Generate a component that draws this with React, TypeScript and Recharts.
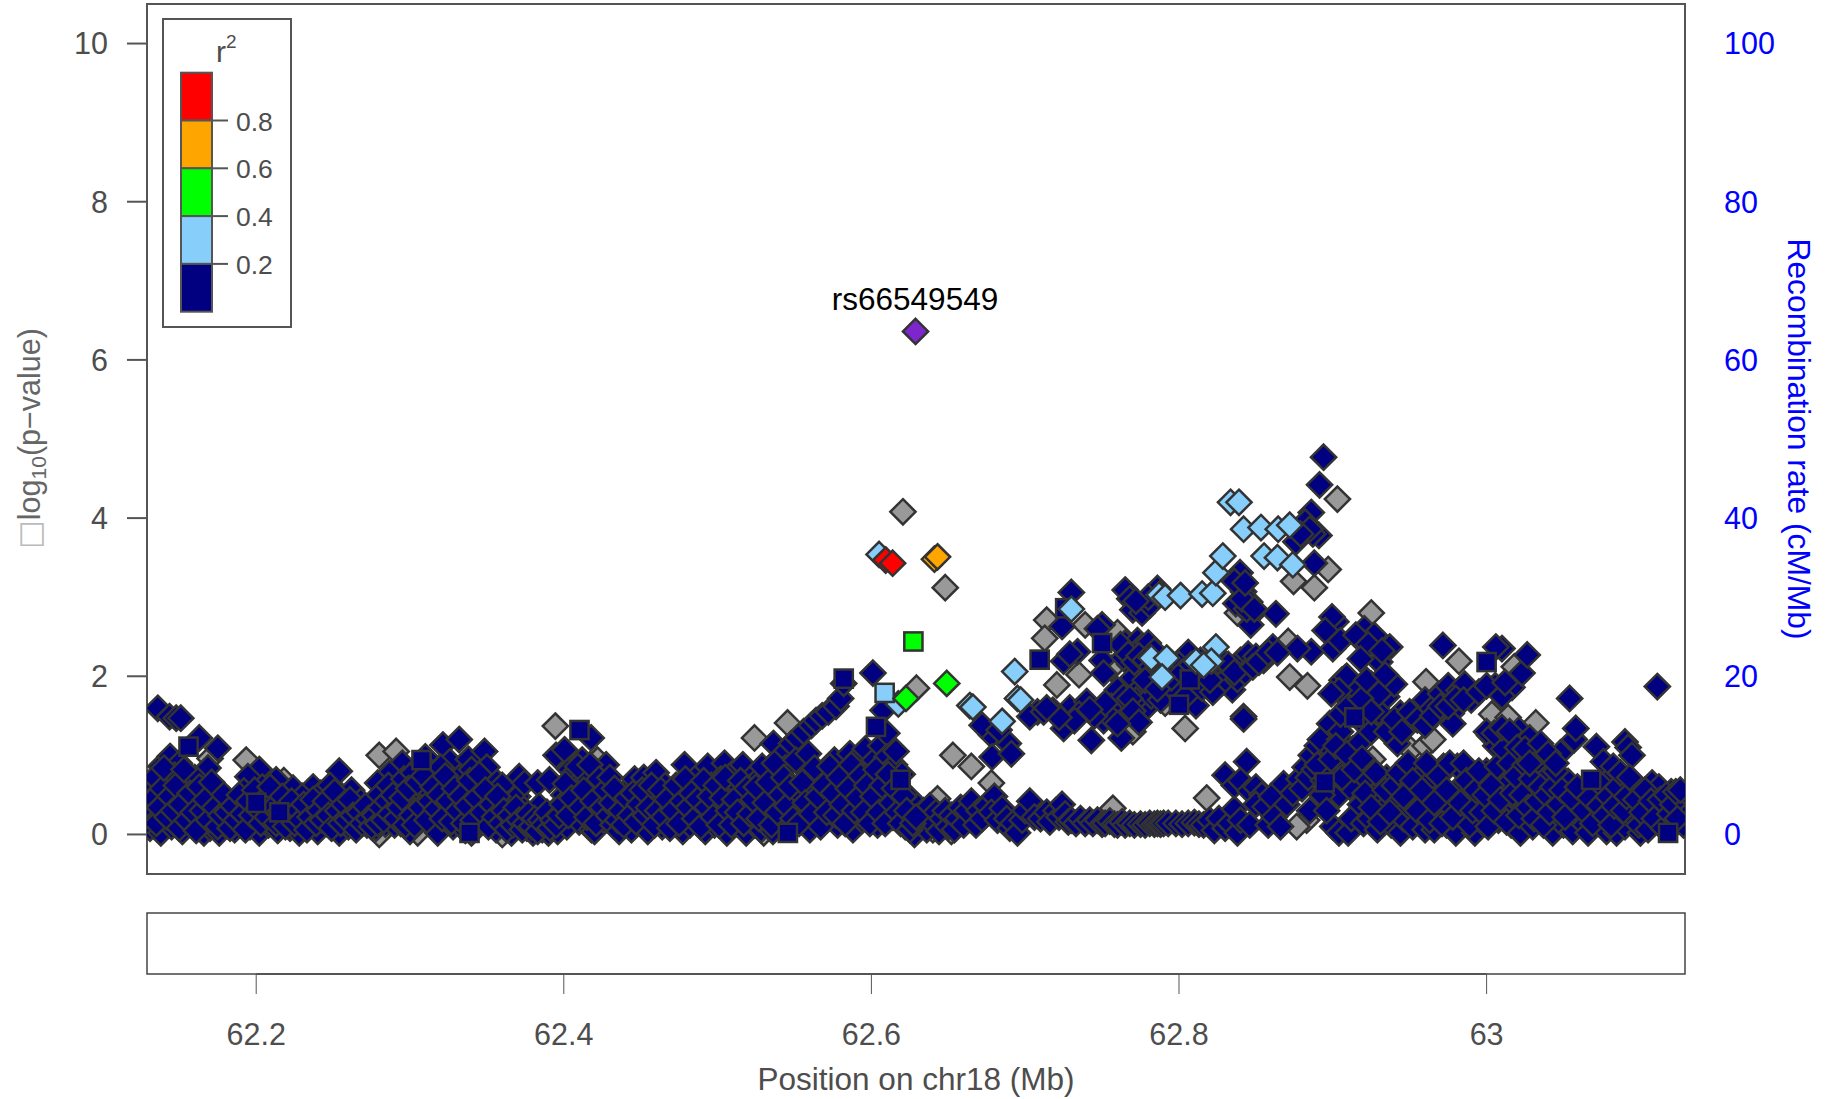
import { ScatterChart, Scatter, XAxis, YAxis, ReferenceArea, ReferenceLine } from "recharts";

const X_DOMAIN = [62.129, 63.129];
const LEFT_TICKS = [0, 2, 4, 6, 8, 10];
const RIGHT_TICKS = [0, 20, 40, 60, 80, 100];
const X_TICKS = [62.2, 62.4, 62.6, 62.8, 63];
const R2_BREAKS = ["0.8", "0.6", "0.4", "0.2"];
const R2_COLORS = ["#FF0000", "#FFA500", "#00FF00", "#87CEFA", "#000080"];

type P = [number, number];

const grayPts: P[] = [
  [62.6205,4.08],[62.648,3.12],[62.6293,1.85],[62.653,1],[62.665,.86],[62.678,.65],[62.643,.45],[62.714,2.71],[62.7127,2.48],[62.739,2.65],
  [62.735,2.02],[62.7206,1.89],[62.757,.33],[62.77,1.3],[62.804,1.34],[62.791,1.66],[62.818,.46],[62.903,4.24],[62.897,3.35],[62.8745,3.2],
  [62.888,3.12],[62.838,2.8],[62.925,2.8],[62.871,2.44],[62.872,1.99],[62.8835,1.88],[62.9606,1.93],[63.0034,1.52],[63.014,1.48],[63.032,1.41],
  [62.982,2.19],[62.9507,1.07],[62.926,.95],[62.916,.84],[63.018,2.12],[62.28,1],[62.291,1.05],[62.1935,.94],[62.303,.54],[62.3945,1.37],
  [62.524,1.22],[62.5455,1.41],[62.422,.94],[62.883,.18],[62.8765,.1],[62.773,1.82],[62.756,2.1],[62.76,2.55],[62.307,.66],[62.17,.96],
  [62.218,.68],[62.305,.02],[62.36,.0],[62.28,.0],[62.34,.02],[62.53,.02],[62.64,.06],[62.652,.04],[62.96,1.12],[62.965,1.2],
];

const navyLeft: P[] = [
  [62.136,1.595],[62.1437,1.49],[62.148,1.47],[62.151,1.47],[62.163,1.22],[62.175,1.09],[62.1686,.84],[62.138,.86],[62.144,.985],[62.15,.9],
  [62.165,.56],[62.202,.82],[62.1946,.73],[62.213,.69],[62.254,.8],[62.224,.585],[62.237,.6],[62.295,.9],[62.3214,1.13],[62.332,1.2],
  [62.2867,.77],[62.279,.65],[62.291,.4],[62.318,.27],[62.31,.98],[62.326,.92],[62.338,.95],[62.3485,1.05],[62.353,.73],[62.3355,.65],
  [62.13,.62],[62.13,.3],[62.131,.08],[62.135,.5],[62.136,.2],[62.138,.02],[62.141,.65],[62.143,.36],[62.145,.1],[62.147,.75],
  [62.149,.5],[62.15,.22],[62.152,.04],[62.154,.62],[62.156,.35],[62.158,.12],[62.16,.72],[62.162,.42],[62.164,.18],[62.166,.02],
  [62.168,.32],[62.17,.08],[62.172,.48],[62.174,.2],[62.176,.02],[62.178,.36],[62.18,.12],[62.182,.44],[62.184,.22],[62.186,.06],
  [62.188,.34],[62.19,.14],[62.192,.55],[62.194,.28],[62.196,.1],[62.198,.42],[62.2,.2],[62.202,.02],[62.204,.6],[62.206,.34],
  [62.208,.12],[62.21,.46],[62.212,.24],[62.214,.05],[62.216,.4],[62.218,.16],[62.22,.3],[62.222,.08],[62.224,.38],[62.226,.2],
  [62.228,.02],[62.23,.48],[62.232,.26],[62.234,.12],[62.236,.36],[62.238,.18],[62.24,.04],[62.242,.52],[62.244,.3],[62.246,.14],
  [62.248,.62],[62.25,.38],[62.252,.2],[62.254,.02],[62.256,.48],[62.258,.26],[62.26,.1],[62.262,.56],[62.264,.32],[62.266,.16],
  [62.268,.42],[62.27,.22],[62.272,.12],[62.274,.32],[62.276,.15],[62.278,.08],[62.28,.5],[62.282,.24],[62.284,.13],[62.286,.62],
  [62.288,.16],[62.29,.12],[62.292,.55],[62.294,.14],[62.296,.7],[62.298,.3],[62.3,.04],[62.302,.78],[62.304,.42],[62.306,.16],
  [62.308,.9],[62.31,.55],[62.312,.3],[62.314,.72],[62.316,.12],[62.318,.02],[62.32,.85],[62.322,.55],[62.324,.28],[62.326,.62],
  [62.328,.1],[62.33,.42],[62.332,.72],[62.334,.22],[62.336,.05],[62.338,.5],[62.34,.82],[62.342,.3],[62.344,.62],[62.346,.16],
  [62.348,.4],[62.35,.85],[62.352,.2],[62.354,.5],[62.356,.06],[62.358,.3],[62.36,.62],[62.362,.14],[62.364,.38],[62.366,.02],
  [62.368,.22],[62.37,.48],[62.371,.73],[62.372,.12],[62.374,.32],[62.3745,.65],[62.376,.08],[62.378,.2],[62.38,.02],[62.382,.14],
  [62.383,.65],[62.384,.36],[62.386,.06],[62.388,.22],[62.39,.02],[62.3907,.69],[62.392,.12],[62.394,.3],[62.395,1],[62.396,.04],
  [62.398,.18],[62.4,.5],[62.4005,1.07],[62.402,.1],[62.404,.82],[62.406,.3],[62.407,.78],[62.408,.62],[62.41,.16],[62.412,.94],
  [62.414,.42],[62.4178,1.22],[62.416,.7],[62.418,.06],[62.42,.04],[62.422,.28],[62.424,.56],[62.4275,.88],[62.426,.18],[62.428,.38],
];

const navyLeftDense: P[] = [
  [62.133,.45],[62.134,.72],[62.135,.14],[62.137,.34],[62.139,.58],[62.14,.84],[62.142,.22],[62.144,.48],[62.146,.3],[62.148,.62],
  [62.15,.08],[62.151,.38],[62.153,.82],[62.155,.18],[62.157,.52],[62.159,.28],[62.161,.05],[62.163,.6],[62.165,.3],[62.167,.44],
  [62.169,.18],[62.171,.66],[62.173,.34],[62.175,.1],[62.177,.24],[62.179,.5],[62.181,.28],[62.183,.08],[62.185,.36],[62.187,.18],
  [62.189,.5],[62.191,.26],[62.193,.06],[62.195,.42],[62.197,.24],[62.199,.56],[62.201,.32],[62.203,.14],[62.205,.44],[62.207,.22],
  [62.209,.6],[62.211,.34],[62.213,.14],[62.215,.28],[62.217,.48],[62.219,.1],[62.221,.24],[62.223,.42],[62.225,.14],[62.227,.3],
  [62.229,.18],[62.231,.38],[62.233,.06],[62.235,.22],[62.237,.44],[62.239,.14],[62.241,.3],[62.243,.18],[62.245,.42],[62.247,.24],
  [62.249,.08],[62.251,.54],[62.253,.3],[62.255,.14],[62.257,.38],[62.259,.18],[62.261,.44],[62.263,.24],[62.265,.06],[62.267,.28],
  [62.269,.14],[62.271,.36],[62.273,.2],[62.275,.1],[62.277,.24],[62.279,.14],[62.281,.34],[62.283,.18],[62.285,.42],[62.287,.26],
  [62.289,.5],[62.291,.2],[62.293,.34],[62.295,.46],[62.297,.12],[62.299,.58],[62.301,.24],[62.303,.12],[62.305,.66],[62.307,.34],
  [62.309,.74],[62.311,.18],[62.313,.42],[62.315,.6],[62.317,.32],[62.319,.5],[62.321,.2],[62.323,.74],[62.325,.42],[62.327,.16],
  [62.329,.58],[62.331,.3],[62.333,.48],[62.335,.14],[62.337,.36],[62.339,.68],[62.341,.18],[62.343,.46],[62.345,.76],[62.347,.28],
  [62.349,.56],[62.351,.1],[62.353,.38],[62.355,.22],[62.357,.48],[62.359,.14],[62.361,.3],[62.363,.06],[62.365,.24],[62.367,.12],
  [62.369,.34],[62.371,.18],[62.373,.06],[62.375,.14],[62.377,.26],[62.379,.1],[62.381,.2],[62.383,.04],[62.385,.18],[62.387,.12],
  [62.389,.28],[62.391,.08],[62.393,.18],[62.395,.12],[62.397,.24],[62.399,.38],[62.401,.64],[62.403,.24],[62.405,.46],[62.409,.86],
  [62.411,.34],[62.413,.56],[62.415,.22],[62.417,.88],[62.419,.42],[62.421,.14],[62.423,.7],[62.425,.34],[62.427,.56],[62.429,.24],
];

const navyMidLeft: P[] = [
  [62.43,.72],[62.432,.12],[62.434,.32],[62.436,.04],[62.438,.5],[62.44,.22],[62.4427,.58],[62.442,.38],[62.444,.06],[62.446,.7],
  [62.448,.28],[62.45,.14],[62.452,.72],[62.4546,.04],[62.456,.42],[62.458,.2],[62.46,.78],[62.462,.44],[62.464,.1],[62.466,.62],
  [62.468,.3],[62.47,.16],[62.472,.48],[62.4774,.04],[62.4785,.88],[62.476,.26],[62.48,.6],[62.482,.12],[62.484,.36],[62.486,.72],
  [62.488,.2],[62.49,.5],[62.4936,.86],[62.492,.04],[62.494,.3],[62.496,.62],[62.498,.12],[62.5,.4],[62.5045,.9],[62.502,.7],
  [62.504,.22],[62.506,.02],[62.508,.52],[62.51,.78],[62.512,.14],[62.5142,.6],[62.5164,.88],[62.516,.32],[62.5186,.02],[62.52,.46],
  [62.522,.72],[62.524,.12],[62.5283,.73],[62.5283,.06],[62.528,.36],[62.53,.55],[62.532,.2],[62.534,.85],[62.5363,1.15],[62.536,.04],
  [62.538,.42],[62.5435,1.03],[62.54,.66],[62.542,.24],[62.544,.84],[62.546,.1],[62.548,1.15],[62.55,.5],[62.552,1.22],[62.554,.3],
  [62.556,1.3],[62.558,.8],[62.56,.06],[62.561,1.38],[62.562,.55],[62.564,1.44],[62.566,.22],[62.568,1.5],[62.57,.72],[62.572,1.55],
  [62.574,.38],[62.576,.94],[62.577,1.62],[62.578,.12],[62.58,1.72],[62.582,1.91],[62.58,.56],[62.584,.82],[62.586,1.02],[62.586,.3],
  [62.588,.06],[62.59,.66],[62.592,.98],[62.594,.18],[62.596,1.08],[62.596,.48],[62.598,.8],[62.6,.3],[62.601,2.04],[62.602,.94],
  [62.603,.6],[62.604,.12],[62.6076,1.57],[62.606,1.12],[62.606,.8],[62.608,.42],[62.61,1.28],[62.61,.98],[62.612,.62],[62.614,.22],
  [62.615,.88],[62.616,1.05],[62.618,.42],[62.62,.76],[62.622,.1],[62.624,.48],[62.626,.26],[62.628,.0],[62.63,.36],[62.632,.14],
  [62.634,.3],[62.636,.06],[62.638,.36],[62.64,.14],[62.642,.28],[62.644,.04],[62.646,.2],[62.648,.3],[62.65,.1],[62.652,.24],
  [62.654,.06],[62.656,.2],[62.658,.34],[62.66,.12],[62.662,.3],[62.665,.42],[62.668,.12],[62.67,.3],[62.672,.2],[62.675,.36],
  [62.68,.48],[62.678,.28],[62.682,.18],[62.685,.33],[62.688,.2],[62.69,.08],[62.692,.14],[62.695,.02],[62.698,.18],[62.7,.3],
  [62.703,.42],[62.706,.22],[62.71,.2],[62.714,.28],[62.716,.16],[62.72,.3],[62.722,.22],[62.724,.38],[62.726,.26],[62.728,.16],
  [62.431,.4],[62.433,.58],[62.435,.18],[62.437,.3],[62.439,.12],[62.441,.46],[62.443,.24],[62.445,.52],[62.447,.16],[62.449,.38],
  [62.451,.56],[62.453,.24],[62.455,.34],[62.457,.62],[62.459,.12],[62.461,.3],[62.463,.56],[62.465,.22],[62.467,.44],[62.469,.08],
  [62.471,.3],[62.473,.62],[62.475,.14],[62.477,.42],[62.479,.7],[62.481,.34],[62.483,.52],[62.485,.2],[62.487,.44],[62.489,.1],
  [62.491,.68],[62.493,.34],[62.495,.48],[62.497,.22],[62.499,.62],[62.501,.12],[62.503,.46],[62.505,.72],[62.507,.3],[62.509,.12],
  [62.511,.44],[62.513,.28],[62.515,.68],[62.517,.14],[62.519,.58],[62.521,.26],[62.523,.44],[62.525,.6],[62.527,.2],[62.529,.86],
  [62.531,.4],[62.533,.66],[62.535,.12],[62.537,.9],[62.539,.28],[62.541,.5],[62.543,.72],[62.545,.36],[62.547,.6],[62.549,.2],
  [62.551,.94],[62.553,.14],[62.555,.66],[62.557,.4],[62.559,1.02],[62.561,.26],[62.563,.84],[62.565,.48],[62.567,.1],[62.569,.62],
  [62.571,.28],[62.573,.86],[62.575,.52],[62.577,.24],[62.579,.72],[62.581,.38],[62.583,.14],[62.585,.58],[62.587,.88],[62.589,.3],
  [62.591,.46],[62.593,.74],[62.595,.28],[62.597,.62],[62.599,.14],[62.601,.48],[62.603,.82],[62.605,.28],[62.607,.62],[62.609,.14],
  [62.611,.76],[62.613,.4],[62.615,.58],[62.617,.28],[62.619,.14],[62.621,.48],[62.623,.3],[62.625,.06],[62.627,.14],[62.629,.22],
];

const navyArc: P[] = [
  [62.689,1.15],[62.678,1.26],[62.6785,.98],[62.672,1.38],[62.683,1.32],[62.691,1.02],[62.73,3.06],[62.724,2.63],[62.75,2.65],[62.747,2.6],
  [62.734,2.31],[62.725,2.19],[62.729,2.28],[62.75,2.2],[62.751,2.04],[62.765,3.09],[62.768,2.98],[62.77,2.84],[62.776,2.8],[62.781,2.9],
  [62.786,3.11],[62.78,3],[62.8397,3.31],[62.842,3.07],[62.846,2.94],[62.847,2.77],[62.8466,2.65],[62.837,2.92],[62.844,2.85],[62.863,2.79],
  [62.894,4.77],[62.8914,4.42],[62.886,4.07],[62.882,3.95],[62.891,3.78],[62.887,3.8],[62.876,3.7],[62.888,3.43],[62.902,2.69],[62.8995,2.75],
  [62.9205,2.6],[62.927,2.52],[62.937,2.37],[62.9305,2.18],[62.9,2.35],[62.886,2.31],[62.877,2.35],[62.861,2.37],[62.908,1.98],[62.91,1.92],
  [62.906,1.95],[62.912,1.9],[62.909,2],[62.765,2.42],[62.77,2.3],[62.773,2.45],[62.776,2.38],[62.78,2.42],[62.784,2.32],[62.768,2.15],
  [62.775,2.1],[62.78,2.05],[62.77,1.98],[62.764,2.24],[62.786,2.15],[62.806,2.3],[62.8,2.15],[62.812,2.05],[62.835,2.1],[62.84,2.2],
  [62.845,2.28],[62.85,2.25],[62.855,2.2],[62.83,2.0],[62.826,2.1],[62.818,2.02],[62.8347,1.83],[62.828,1.92],[62.838,1.96],[62.843,2.05],
  [62.811,1.63],[62.842,1.49],[62.842,1.46],[62.7786,1.6],[62.766,1.55],[62.76,1.83],[62.776,1.87],[62.7625,1.22],[62.743,1.19],[62.725,1.34],
  [62.729,1.6],[62.74,1.68],[62.718,1.57],[62.708,1.55],[62.703,1.49],[62.751,1.44],[62.756,1.62],[62.748,1.56],[62.764,1.74],[62.772,1.7],
  [62.782,1.75],[62.757,1.45],[62.745,1.5],[62.735,1.52],[62.712,1.55],[62.788,1.7],[62.796,1.85],[62.805,1.76],[62.815,1.85],[62.822,1.8],
  [62.762,2.4],[62.767,2.28],[62.771,2.18],[62.774,2.26],[62.778,2.2],[62.782,2.12],[62.79,2.05],[62.795,1.98],[62.802,2.05],[62.808,2.15],
  [62.814,2.2],[62.82,1.95],[62.828,2.2],[62.832,2.15],[62.836,2.05],[62.848,2.12],[62.852,2.18],[62.858,2.3],[62.864,2.3],[62.768,1.72],
  [62.778,1.95],[62.786,1.84],[62.752,1.66],[62.742,1.58],[62.732,1.44],[62.722,1.48],[62.714,1.6],[62.77,1.56],[62.774,1.42],[62.76,1.4],
  [62.788,3.05],[62.772,2.95],[62.841,2.98],[62.849,2.85],[62.836,3.2],[62.843,3.18],[62.885,3.86],[62.879,3.8],[62.895,2.58],[62.905,2.45],
  [62.915,2.52],[62.923,2.4],[62.932,2.32],[62.918,2.22],[62.904,1.82],[62.899,1.78],[62.922,1.95],[62.934,2.02],
];

const navyMidRight: P[] = [
  [62.73,.18],[62.733,.14],[62.736,.2],[62.739,.14],[62.742,.18],[62.744,.14],[62.747,.18],[62.75,.13],[62.752,.14],[62.755,.17],
  [62.758,.13],[62.76,.12],[62.763,.16],[62.765,.12],[62.768,.14],[62.771,.12],[62.775,.13],[62.778,.12],[62.781,.14],[62.784,.13],
  [62.786,.14],[62.788,.13],[62.79,.14],[62.793,.14],[62.798,.14],[62.802,.13],[62.806,.14],[62.81,.15],[62.813,.13],[62.816,.12],
  [62.82,.18],[62.823,.05],[62.826,.2],[62.83,.08],[62.833,.14],[62.836,.32],[62.838,.02],[62.84,.18],[62.844,.92],[62.83,.75],
  [62.836,.62],[62.84,.68],[62.846,.55],[62.85,.6],[62.854,.5],[62.846,.12],[62.85,.38],[62.856,.35],[62.86,.48],[62.858,.12],
  [62.862,.22],[62.866,.1],[62.87,.38],[62.868,.64],[62.874,.52],[62.878,.7],[62.88,.58],[62.882,.85],[62.886,1],[62.884,.72],
  [62.89,1.12],[62.888,.82],[62.892,1.2],[62.895,.95],[62.894,.68],[62.898,1.4],[62.897,.62],[62.9,1.05],[62.9,.8],[62.9045,1.2],
  [62.904,.5],[62.905,1.3],[62.9,.1],[62.904,.02],[62.908,.9],[62.91,.02],[62.911,.6],[62.913,1.08],[62.912,.2],[62.915,1.87],
  [62.916,1.62],[62.917,1.15],[62.918,.38],[62.92,.14],[62.922,.7],[62.924,.2],[62.926,.48],[62.929,.52],[62.929,.06],[62.932,.3],
  [62.935,1.74],[62.935,.72],[62.938,.12],[62.94,1.9],[62.942,1.15],[62.942,.42],[62.944,1.53],[62.944,.02],[62.946,.2],[62.948,.62],
  [62.95,1.4],[62.95,.34],[62.952,.1],[62.954,.52],[62.956,.77],[62.957,1.57],[62.958,.28],[62.96,1.7],[62.96,.06],[62.962,.44],
  [62.964,1.58],[62.964,.68],[62.966,.06],[62.968,.24],[62.97,1.78],[62.97,.52],[62.972,.86],[62.9716,2.39],[62.975,1.88],[62.974,.12],
  [62.977,1.53],[62.978,1.4],[62.976,.34],[62.98,.02],[62.981,.86],[62.982,1.82],[62.984,.62],[62.9858,1.9],[62.986,.18],[62.988,.42],
  [62.99,1.7],[62.99,.74],[62.9924,.02],[62.994,.3],[62.996,.54],[62.998,.14],[63,.8],[63.002,.28],[63.002,1.25],[63.0056,1.88],
  [63.004,.44],[63.006,1.12],[63.0077,.18],[63.01,2.35],[63.006,2.37],[63.01,.7],[63.012,.32],[63.0143,.65],[63.0165,1.86],[63.016,1.2],
  [63.016,.12],[63.018,1.02],[63.02,.42],[63.021,1.32],[63.022,.02],[63.023,2.04],[63.024,.62],[63.0264,2.27],[63.026,.24],[63.028,1.22],
  [63.03,1.05],[63.03,.1],[63.032,.5],[63.034,.88],[63.036,.2],[63.038,.36],[63.04,.74],[63.043,.02],[63.044,.52],[63.046,.2],
  [63.048,1.03],[63.05,.12],[63.053,.67],[63.052,.34],[63.054,1.72],[63.056,.04],[63.057,1.2],[63.058,1.34],[63.06,.28],[63.062,.42],
  [63.064,.12],[63.066,.02],[63.07,.3],[63.0714,1.11],[63.072,.52],[63.074,.14],[63.076,.92],[63.078,.04],[63.08,.7],[63.0824,.86],
  [63.0845,.02],[63.086,.24],[63.088,.42],[63.09,1.17],[63.09,.1],[63.092,1.1],[63.0945,1],[63.095,.62],[63.096,.3],[63.0977,.18],
  [63.1,.02],[63.102,.4],[63.104,.16],[63.106,.28],[63.1076,.65],[63.11,.4],[63.111,1.87],[63.112,.6],[63.114,.18],[63.116,.3],
  [63.12,.54],[63.122,.12],[63.125,.4],[63.128,.22],[63.13,.52],[63.128,.12],
  [62.885,.3],[62.89,.88],[62.893,.5],[62.896,.3],[62.899,.95],[62.902,1.12],[62.906,.72],[62.909,1.02],[62.914,.82],[62.919,.96],
  [62.921,.52],[62.925,.34],[62.928,.78],[62.931,.16],[62.934,.56],[62.937,.28],[62.94,.62],[62.943,.78],[62.946,.48],[62.949,.9],
  [62.952,.68],[62.955,.3],[62.958,.56],[62.961,.9],[62.963,.18],[62.966,.4],[62.969,.74],[62.971,.14],[62.974,.56],[62.976,.9],
  [62.978,.22],[62.983,.4],[62.985,.9],[62.987,.68],[62.989,.12],[62.991,.3],[62.993,.56],[62.995,.8],[62.997,.28],[62.999,.5],
  [63.001,.1],[63.003,.62],[63.005,.3],[63.007,.86],[63.009,.44],[63.011,1.08],[63.013,.16],[63.015,.9],[63.017,.52],[63.019,.74],
  [63.021,.24],[63.023,.5],[63.025,.88],[63.027,.34],[63.029,.7],[63.031,.2],[63.033,.42],[63.035,.6],[63.037,.12],[63.039,.5],
  [63.041,.28],[63.043,.6],[63.045,.8],[63.047,.38],[63.049,.56],[63.051,.22],[63.055,.46],[63.059,.6],[63.063,.3],[63.067,.46],
  [63.069,.14],[63.073,.36],[63.075,.62],[63.077,.24],[63.079,.48],[63.081,.12],[63.083,.36],[63.085,.6],[63.087,.78],[63.089,.3],
  [63.091,.48],[63.093,.72],[63.097,.44],[63.099,.12],[63.101,.28],[63.103,.56],[63.105,.06],[63.107,.42],[63.109,.2],[63.113,.44],
  [63.115,.08],[63.117,.5],[63.119,.26],[63.121,.38],[63.123,.54],[63.124,.2],[63.126,.56],
  [62.92,1.4],[62.925,1.3],[62.93,1.55],[62.935,1.3],[62.94,1.45],[62.945,1.3],[62.95,1.55],[62.955,1.45],[62.96,1.38],[62.965,1.5],
  [62.97,1.62],[62.975,1.62],[62.98,1.72],[62.985,1.7],[62.995,1.8],[63,1.88],[63.01,1.75],[63.012,1.92],[63,1.3],[63.005,1.28],
  [63.01,1.35],[63.015,1.3],[63.02,1.1],[63.025,1.08],[63.035,1.15],[63.04,1.02],[63.045,.9],[63.028,.9],[62.925,1.9],[62.93,1.78],
  [62.905,1.52],[62.91,1.62],[62.918,1.72],[62.925,1.55],
];

const navySquares: P[] = [
  [62.582,1.97],[62.603,1.36],[62.619,.69],[62.726,2.86],[62.7094,2.21],[62.807,1.96],[62.8,1.64],[62.156,1.11],[62.3075,.94],[62.4102,1.32],
  [62.3387,.02],[62.5457,.02],[62.2,.4],[62.215,.28],[63,2.18],[62.8947,.66],[63.068,.69],[63.118,.02],[62.914,1.48],[62.816,2.18],[62.75,2.42],
];

const lightBlueDiamonds: P[] = [
  [62.605,3.54],[62.6175,1.65],[62.664,1.63],[62.666,1.61],[62.6932,2.06],[62.695,1.72],[62.697,1.7],[62.685,1.43],[62.73,2.85],[62.787,3.03],
  [62.791,3],[62.801,3.02],[62.815,3.04],[62.822,3.05],[62.824,3.31],[62.8285,3.52],[62.8335,4.2],[62.839,4.2],[62.842,3.86],[62.8533,3.88],
  [62.8645,3.86],[62.872,3.91],[62.8553,3.52],[62.864,3.5],[62.874,3.41],[62.782,2.23],[62.792,2.23],[62.789,1.99],[62.824,2.37],[62.811,2.19],
  [62.821,2.19],[62.816,2.14],
];
const lightBlueSquares: P[] = [[62.6086,1.79]];
const greenDiamonds: P[] = [[62.6225,1.72],[62.649,1.91]];
const greenSquares: P[] = [[62.6273,2.44]];
const orangePts: P[] = [[62.641,3.48],[62.643,3.51]];
const redPts: P[] = [[62.6093,3.47],[62.6138,3.43]];
const leadPts: P[] = [[62.6287,6.36]];

const INK = "#4d4d4d";
const FONT = "'Liberation Sans', Arial, sans-serif";
const toRows = (pts: P[]) => pts.map(([x, y]) => ({ x, y }));

function Diamond(props: any) {
  const { cx, cy, fill } = props;
  return <path d={`M${cx} ${cy - 12.6}L${cx + 12.6} ${cy}L${cx} ${cy + 12.6}L${cx - 12.6} ${cy}Z`} fill={fill} stroke="#333" strokeWidth={2.5} />;
}

function Square(props: any) {
  const { cx, cy, fill } = props;
  return <rect x={cx - 9.1} y={cy - 9.1} width={18.2} height={18.2} fill={fill} stroke="#333" strokeWidth={2.5} />;
}

const NoMark = () => null;

export default function App() {
  const layers: [P[], string, any][] = [
    [grayPts, "#999999", Diamond],
    [navyLeft, "#000080", Diamond],
    [navyLeftDense, "#000080", Diamond],
    [navyMidLeft, "#000080", Diamond],
    [navyMidRight, "#000080", Diamond],
    [navyArc, "#000080", Diamond],
    [navySquares, "#000080", Square],
    [lightBlueDiamonds, "#87CEFA", Diamond],
    [lightBlueSquares, "#87CEFA", Square],
    [greenDiamonds, "#00FF00", Diamond],
    [greenSquares, "#00FF00", Square],
    [orangePts, "#FFA500", Diamond],
    [redPts, "#FF0000", Diamond],
    [leadPts, "#7D26CD", Diamond],
  ];
  const axisTick = { fontSize: 30.5, fontFamily: FONT, fill: INK };

  return (
    <div style={{ position: "absolute", left: 0, top: 0, width: 1829, height: 1099, background: "#fff", overflow: "hidden" }}>
      <div style={{ position: "absolute", left: 0, top: 0 }}>
        <ScatterChart width={1829} height={878} margin={{ top: 4, right: 0, bottom: 4, left: 0 }}>
          <XAxis type="number" dataKey="x" domain={X_DOMAIN} hide allowDataOverflow />
          <YAxis yAxisId="left" type="number" dataKey="y" domain={[-0.5, 10.5]} ticks={LEFT_TICKS} width={147}
            tick={axisTick} tickSize={20} tickMargin={19} stroke="#555" strokeWidth={2} axisLine={false} />
          <YAxis yAxisId="right" orientation="right" type="number" dataKey="y" domain={[-5, 105]} ticks={RIGHT_TICKS} width={144}
            tick={{ ...axisTick, fill: "#0000FF" }} tickLine={false} axisLine={false} tickSize={0} tickMargin={39} />
          <ReferenceArea yAxisId="left" x1={X_DOMAIN[0]} x2={X_DOMAIN[1]} y1={-0.5} y2={10.5} fill="none" stroke="#555" strokeWidth={2} />
          <Scatter yAxisId="right" data={RIGHT_TICKS.map((y) => ({ x: X_TICKS[0], y }))} shape={NoMark} isAnimationActive={false} />
          {layers.map(([pts, fill, shape], i) => (
            <Scatter key={i} yAxisId="left" data={toRows(pts)} fill={fill} shape={shape} isAnimationActive={false} />
          ))}
        </ScatterChart>
      </div>

      <div style={{ position: "absolute", left: 0, top: 878 }}>
        <ScatterChart width={1829} height={221} margin={{ top: 35, right: 144, bottom: 0, left: 147 }}>
          <XAxis type="number" dataKey="x" domain={X_DOMAIN} ticks={X_TICKS} height={125} axisLine={false}
            tick={axisTick} tickSize={20} tickMargin={29} stroke="#555" tickFormatter={(v) => String(v)}
            label={{ value: "Position on chr18 (Mb)", position: "insideBottom", offset: 9, fontSize: 31.5, fontFamily: FONT, fill: INK }} />
          <YAxis type="number" dataKey="y" domain={[0, 1]} hide />
          <ReferenceArea x1={X_DOMAIN[0]} x2={X_DOMAIN[1]} y1={0} y2={1} fill="none" stroke="#444" strokeWidth={1.5} />
          <ReferenceLine segment={[{ x: X_TICKS[0], y: 0 }, { x: X_TICKS[4], y: 0 }]} stroke="#555" strokeWidth={2.2} />
          <Scatter data={X_TICKS.map((x) => ({ x, y: 0 }))} shape={NoMark} isAnimationActive={false} />
        </ScatterChart>
      </div>

      <svg width={1829} height={1099} style={{ position: "absolute", left: 0, top: 0, pointerEvents: "none" }} fontFamily={FONT}>
        <text x={915} y={310} fontSize={31.5} textAnchor="middle" fill="#000">rs66549549</text>

        <rect x={163} y={19} width={128} height={308} fill="#fff" stroke="#555" strokeWidth={2} />
        <text x={216} y={62} fontSize={30} fill={INK}>r<tspan fontSize={19} dy={-14}>2</tspan></text>
        {R2_COLORS.map((c, i) => (
          <rect key={c} x={181} y={72.7 + i * 47.8} width={31} height={47.8} fill={c} stroke="#555" strokeWidth={2} />
        ))}
        {R2_BREAKS.map((b, i) => (
          <g key={b}>
            <line x1={212} x2={228} y1={120.5 + i * 47.8} y2={120.5 + i * 47.8} stroke="#555" strokeWidth={2} />
            <text x={236} y={130.5 + i * 47.8} fontSize={26.5} fill={INK}>{b}</text>
          </g>
        ))}

        <text transform="translate(40,549) rotate(-90)" fontSize={30.5} fill="#666">
          <tspan fill="#bbb" fontFamily="'DejaVu Sans'">□</tspan>log<tspan fontSize={21} dy={6}>10</tspan><tspan dy={-6}>(p−value)</tspan>
        </text>
        <text transform="translate(1788,439) rotate(90)" fontSize={31.8} fill="#0000FF" textAnchor="middle">Recombination rate (cM/Mb)</text>
      </svg>
    </div>
  );
}
